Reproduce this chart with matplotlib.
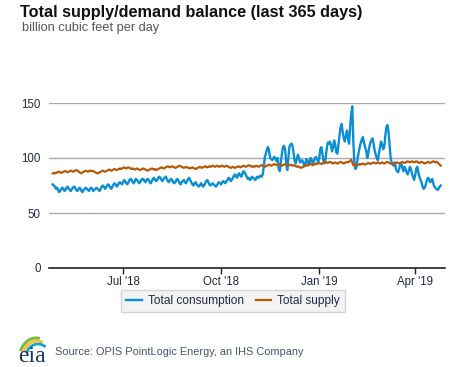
import pandas as pd
import matplotlib
matplotlib.use("Agg")
import matplotlib.pyplot as plt
from matplotlib.patches import Arc

plt.rcParams['font.family'] = ['Liberation Sans', 'DejaVu Sans']

# Daily values, 26 Apr 2018 - 25 Apr 2019 (billion cubic feet per day)
start_date = "2018-04-26"

consumption = [
    # Apr
    76, 75, 74, 72, 73,
    # May
    71, 69, 70, 72, 73, 72, 70, 71, 73, 74, 72, 71, 70, 72, 73, 74, 73, 71, 70, 71,
    73, 72, 70, 69, 71, 72, 73, 72, 71, 70, 72,
    # Jun
    73, 72, 70, 71, 72, 73, 72, 71, 70, 72, 74, 75, 74, 72, 73, 75, 76, 75, 73, 72,
    74, 76, 77, 76, 74, 75, 77, 78, 77, 76,
    # Jul
    78, 80, 79, 77, 76, 78, 80, 81, 80, 78, 77, 79, 81, 80, 79, 77, 78, 80, 81, 81,
    79, 78, 80, 81, 80, 78, 77, 79, 81, 82, 80,
    # Aug
    79, 80, 82, 83, 82, 80, 79, 81, 82, 83, 81, 79, 78, 80, 81, 80, 78, 77, 78, 80,
    81, 79, 77, 76, 78, 79, 80, 78, 77, 79, 81,
    # Sep
    82, 80, 78, 76, 75, 77, 78, 76, 75, 74, 75, 77, 76, 74, 75, 77, 79, 80, 78, 76,
    75, 76, 77, 76, 75, 74, 75, 77, 78, 77,
    # Oct
    76, 78, 79, 78, 77, 79, 80, 82, 81, 79, 80, 82, 84, 85, 83, 82, 85, 86, 84, 83,
    86, 88, 87, 85, 83, 81, 82, 80, 81, 83, 82,
    # Nov
    81, 80, 82, 83, 82, 83, 84, 83, 85, 92, 101, 104, 108, 110, 106, 100, 99, 98, 100, 101,
    99, 97, 100, 90, 88, 96, 104, 110, 111, 108,
    # Dec
    96, 89, 100, 110, 112, 113, 111, 104, 97, 95, 99, 103, 100, 96, 97, 98, 96, 93, 95, 99,
    98, 94, 96, 100, 98, 95, 97, 100, 101, 99, 96,
    # Jan
    100, 108, 110, 104, 97, 95, 100, 108, 114, 113, 115, 112, 106, 110, 116, 112, 105, 104, 112, 120,
    128, 131, 124, 118, 115, 120, 125, 118, 113, 128, 140,
    # Feb
    147, 115, 95, 90, 92, 100, 105, 110, 114, 117, 119, 114, 110, 107, 100, 104, 110, 114, 116, 118,
    113, 107, 103, 100, 98, 104, 110, 115,
    # Mar
    112, 108, 110, 120, 128, 130, 124, 112, 100, 96, 95, 93, 96, 90, 88, 87, 90, 94, 95, 91,
    88, 92, 90, 87, 85, 88, 92, 90, 86, 83, 80,
    # Apr
    84, 90, 92, 87, 83, 80, 78, 74, 72, 73, 76, 80, 82, 81, 78, 79, 81, 77, 74, 73,
    72, 71, 72, 74, 75,
]

supply = [
    # Apr
    86, 86.5, 86, 86.5, 87,
    # May
    87, 87.5, 87, 86.5, 87, 87.5, 88, 88, 87.5, 87, 87.5, 88, 88.5, 88, 87.5, 88, 88.5, 89, 88.5, 88,
    87, 86.5, 86, 87, 87.5, 88, 88.5, 88, 87.5, 88, 88.5,
    # Jun
    88, 88.5, 88, 87.5, 87, 86.5, 86, 86.5, 87, 87.5, 88, 88.5, 88, 87.5, 88, 88.5, 89, 89.5, 89, 88.5,
    89, 89.5, 90, 89.5, 89, 89.5, 90, 90.5, 90, 90.5,
    # Jul
    91, 91.5, 91, 90.5, 91, 91.5, 91, 90.5, 90, 90.5, 90, 89.5, 90, 90.5, 90, 89.5, 89, 89.5, 90, 90.5,
    90, 89.5, 89, 88.5, 89, 89.5, 90, 90.5, 90, 89.5, 90,
    # Aug
    89, 89.5, 90, 90.5, 91, 91.5, 91, 90.5, 91, 91.5, 92, 92.5, 92, 91.5, 92, 92.5, 92, 91.5, 91, 91.5,
    92, 92.5, 93, 92.5, 92, 91.5, 91, 91.5, 92, 91.5, 91,
    # Sep
    91, 90.5, 91, 91.5, 91, 90.5, 90, 90.5, 91, 91.5, 92, 91.5, 91, 91.5, 92, 92.5, 92, 91.5, 92, 92.5,
    92, 92.5, 93, 92.5, 92, 92.5, 93, 92.5, 92, 92.5,
    # Oct
    92.5, 93, 92.5, 92, 92.5, 93, 92.5, 92, 91.5, 91, 91.5, 92, 91.5, 91, 91.5, 92, 92.5, 92, 91.5, 92,
    92.5, 93, 92.5, 92, 92.5, 93, 93.5, 93, 92.5, 92, 92.5,
    # Nov
    92, 92.5, 93, 92.5, 92, 92.5, 93, 93.5, 93, 92.5, 92, 92.5, 93, 93.5, 94, 93.5, 93, 93.5, 94, 94.5,
    94, 93.5, 94, 94.5, 94, 93.5, 93, 93.5, 94, 94.5,
    # Dec
    94, 93.5, 93, 93.5, 94, 93.5, 93, 93.5, 93, 92.5, 92, 92.5, 92, 91.5, 91, 91.5, 92, 92.5, 93, 93.5,
    93, 93.5, 94, 94.5, 94, 93.5, 94, 94.5, 95, 94.5, 95,
    # Jan
    95.5, 95, 94.5, 95, 95.5, 96, 96.5, 96, 95.5, 96, 96.5, 96, 95.5, 95, 95.5, 96, 95.5, 95, 95.5, 96,
    96.5, 96, 95.5, 95, 95.5, 96, 96.5, 96, 96.5, 97.5, 98.5,
    # Feb
    96, 93.5, 93, 93.5, 94, 93.5, 94, 94.5, 94, 94.5, 95, 94.5, 94, 94.5, 95, 95.5, 95, 94.5, 95, 95.5,
    96, 95.5, 95, 95.5, 96, 95.5, 95, 95.5,
    # Mar
    96, 95.5, 95, 95.5, 96, 96.5, 96, 95.5, 95, 94.5, 94, 94.5, 95, 95.5, 96, 95.5, 95, 95.5, 96, 96.5,
    96, 95.5, 96, 96.5, 97, 96.5, 96, 96.5, 97, 96.5, 96,
    # Apr
    96.5, 97, 96.5, 96, 95.5, 96, 96.5, 96, 95.5, 95, 95.5, 96, 96.5, 96, 95.5, 96, 96.5, 97, 96.5, 96,
    96.5, 96, 95, 94, 93,
]

y_ticks = [0, 50, 100, 150]
x_ticks = ["2018-07-01", "2018-10-01", "2019-01-01", "2019-04-01"]
x_tick_labels = ["Jul '18", "Oct '18", "Jan '19", "Apr '19"]

dates = pd.date_range(start_date, periods=len(consumption), freq="D")
df = pd.DataFrame({"consumption": consumption, "supply": supply[:len(consumption)]}, index=dates)

fig = plt.figure(figsize=(4.77, 3.67), dpi=100)
ax = fig.add_axes([49 / 477, 1 - 268 / 367, 396 / 477, 165 / 367])

ax.plot(df.index, df["consumption"], color="#0a8fd6", lw=1.7, label="Total consumption")
ax.plot(df.index, df["supply"], color="#b8590a", lw=1.6, label="Total supply")

ax.set_ylim(0, 150)
ax.set_xlim(dates[0] - pd.Timedelta(days=3.5), dates[0] + pd.Timedelta(days=368))
ax.set_yticks(y_ticks)
ax.yaxis.grid(True, color="#aaaaaa", lw=1)
ax.set_axisbelow(True)
ax.tick_params(axis="y", length=0, pad=6, labelsize=8.3, labelcolor="#1f2a44")
ax.set_xticks(pd.to_datetime(x_ticks))
ax.set_xticklabels(x_tick_labels)
ax.tick_params(axis="x", length=4, width=1, color="#222222", pad=2, labelsize=8.3, labelcolor="#1f2a44")
for side in ["top", "right", "left"]:
    ax.spines[side].set_visible(False)
ax.spines["bottom"].set_color("#222222")
ax.spines["bottom"].set_linewidth(1.2)

# Titles
fig.text(20 / 477, 1 - 13 / 367, "Total supply/demand balance (last 365 days)",
         fontsize=11.7, fontweight="bold", color="#111111", va="center", ha="left")
fig.text(22 / 477, 1 - 28 / 367, "billion cubic feet per day",
         fontsize=9.2, color="#555555", va="center", ha="left")

# Legend
leg = fig.legend(loc="center", bbox_to_anchor=(233 / 477, 1 - 301 / 367), ncol=2,
                 frameon=True, fancybox=False, facecolor="#f0f0f0", edgecolor="#cccccc",
                 handlelength=1.3, handletextpad=0.5, columnspacing=1.0,
                 fontsize=8.6, borderpad=0.45)
leg.get_frame().set_linewidth(1)
for t in leg.get_texts():
    t.set_color("#1f2a44")

# Source line with eia logo
logo = fig.add_axes([14 / 477, 1 - 366 / 367, 36 / 477, 32 / 367])
logo.set_xlim(0, 36)
logo.set_ylim(0, 32)
logo.axis("off")
logo.add_patch(Arc((22, 6), 34, 44, theta1=80, theta2=150, color="#7ab840", lw=2.2))
logo.add_patch(Arc((23, 6), 30, 38, theta1=72, theta2=150, color="#f2c12e", lw=2))
logo.add_patch(Arc((24, 6), 26, 32, theta1=60, theta2=150, color="#1aa0d8", lw=2))
logo.text(18, 9, "eia", family="Liberation Serif", fontsize=17, color="#1b3566",
          ha="center", va="center")
fig.text(55 / 477, 1 - 352 / 367, "Source: OPIS PointLogic Energy, an IHS Company",
         fontsize=7.9, color="#4a5568", va="center", ha="left")

fig.savefig("out.png", dpi=100)
